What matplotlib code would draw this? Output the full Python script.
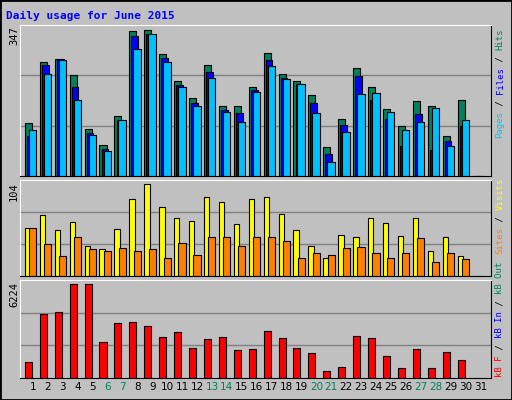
import matplotlib
matplotlib.use("Agg")
import matplotlib.pyplot as plt
from matplotlib.patches import Rectangle
import numpy as np

days = list(range(1, 32))
weekend = [6, 7, 13, 14, 20, 21, 27, 28]
hits = [122,265,270,233,108,71,138,335,339,282,219,180,256,163,161,205,284,237,221,187,66,133,251,207,154,115,173,163,92,175,0]
files = [93,256,270,205,99,62,130,323,328,272,211,168,240,152,145,198,268,226,212,170,52,117,231,176,133,69,143,60,80,115,0]
pages = [106,237,268,177,96,57,129,295,328,263,205,161,226,147,124,194,254,224,212,145,32,101,189,191,147,106,124,157,69,129,0]
visits = [55,69,53,61,34,31,54,88,104,79,66,63,90,84,59,87,90,70,53,34,21,47,44,66,60,46,66,29,44,23,0]
sites = [55,37,23,44,31,29,32,29,31,21,38,24,44,45,34,44,45,40,21,26,24,32,33,26,21,27,43,16,26,20,0]
kbytes = [1045,4248,4384,6224,6224,2340,3634,3702,3430,2680,3020,2000,2544,2680,1862,1930,3090,2612,2000,1658,432,704,2748,2612,1454,636,1930,636,1726,1181,0]

GREEN = "#00805c"; BLUE = "#0000ff"; CYAN = "#00c0ff"
YEL = "#ffff00"; ORA = "#ff8000"; RED = "#ff0000"
BG = "#c0c0c0"

fig = plt.figure(figsize=(5.12, 4.0), dpi=100, facecolor=BG)
fig.patches.append(Rectangle((0, 0), 1, 1, transform=fig.transFigure, fill=False,
                             edgecolor="black", linewidth=2))
x = np.array(days, dtype=float)
mono = "DejaVu Sans Mono"

def mkax(bottom, height, top):
    ax = fig.add_axes([0.039, bottom, 0.92, height], facecolor=BG)
    ax.set_xlim(0.13, 31.7)
    ax.set_ylim(0, top)
    for v in (top / 3, 2 * top / 3):
        ax.axhline(v, color="#808080", linewidth=1, zorder=0)
    ax.set_yticks([]); ax.set_xticks([])
    for s in ax.spines.values():
        s.set_color("black")
    ax.spines["top"].set_color("white"); ax.spines["left"].set_color("white")
    return ax

kw = dict(align="edge", edgecolor="black", linewidth=0.8)
ax1 = mkax(0.56, 0.378, 350)
ax1.bar(x - 0.54, hits, 0.47, color=GREEN, **kw)
ax1.bar(x - 0.40, files, 0.45, color=BLUE, **kw)
ax1.bar(x - 0.27, pages, 0.50, color=CYAN, **kw)

ax2 = mkax(0.309, 0.241, 109)
ax2.bar(x - 0.54, visits, 0.36, color=YEL, **kw)
ax2.bar(x - 0.25, sites, 0.48, color=ORA, **kw)

ax3 = mkax(0.056, 0.244, 6497)
ax3.bar(x - 0.54, kbytes, 0.47, color=RED, **kw)
ax3.set_xticks(days)
ax3.set_xticklabels([str(d) for d in days], fontsize=7.5)
ax3.tick_params(axis="x", length=0, pad=3)
for lab, d in zip(ax3.get_xticklabels(), days):
    lab.set_color(GREEN if d in weekend else "black")

fig.text(6 / 512, 1 - 16 / 400, "Daily usage for June 2015", color=BLUE,
         fontsize=8, fontweight="bold", family=mono, va="center", ha="left")

for txt, ytop in (("347", 26), ("104", 182), ("6224", 282)):
    fig.text(14 / 512, 1 - ytop / 400, txt, rotation=90, fontsize=7.5,
             family=mono, va="top", ha="center")

CH = 5.5  # px per char
def vlabel(parts, ytop):
    y = ytop
    for t, c in parts:
        fig.text(500 / 512, 1 - y / 400, t, rotation=90, color=c, fontsize=6.5,
                 family=mono, va="top", ha="center")
        y += CH * len(t)

vlabel([("Hits", GREEN), (" / ", "black"), ("Files", BLUE), (" / ", "black"), ("Pages", CYAN)], 29)
vlabel([("Visits", YEL), (" / ", "black"), ("Sites", ORA)], 178)
vlabel([("kB Out", GREEN), (" / ", "black"), ("kB In", BLUE), (" / ", "black"), ("kB F", RED)], 262)

fig.savefig("out.png", dpi=100, facecolor=BG)
